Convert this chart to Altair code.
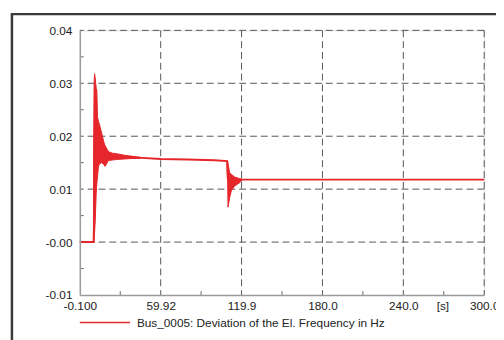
import altair as alt
import pandas as pd

# ---- data ----
line_t = [-0.1, 10.0, 10.2, 12.0, 15.0, 18.0, 21.0, 27.0, 40.0, 60.0, 80.0, 100.0, 109.2, 109.7, 112.0, 115.0, 120.0, 150.0, 200.0, 300.0]
line_v = [0.0, 0.0, 0.0, 0.019, 0.0178, 0.0167, 0.0163, 0.0161, 0.0160, 0.0157, 0.0156, 0.01545, 0.0153, 0.0120, 0.0113, 0.0115, 0.0118, 0.0118, 0.0118, 0.0118]

band1_t = [10.0, 10.12, 10.5, 10.85, 11.3, 12.09, 12.53, 13.04, 13.77, 14.5, 16.18, 17.94, 18.67, 21.08, 24.0, 27.14, 33.0, 39.33, 45.0]
band1_lo = [0.0, 0.0, 0.0008, 0.0019, 0.004, 0.0094, 0.011, 0.0125, 0.0143, 0.0148, 0.0150, 0.0146, 0.0143, 0.0154, 0.0155, 0.0156, 0.0157, 0.0158, 0.0158]
band1_hi = [0.0, 0.018, 0.030, 0.0318, 0.031, 0.029, 0.0287, 0.0236, 0.0228, 0.0222, 0.0205, 0.0187, 0.0182, 0.0171, 0.0168, 0.0167, 0.0164, 0.0162, 0.0160]

band2_t = [109.2, 109.6, 109.9, 111.1, 112.35, 114.8, 118.4, 120.4]
band2_lo = [0.0153, 0.0115, 0.0066, 0.0084, 0.0097, 0.0106, 0.0112, 0.0117]
band2_hi = [0.0153, 0.0153, 0.0148, 0.0131, 0.0128, 0.0123, 0.0120, 0.0119]

x_ticks = [-0.1, 59.92, 119.94, 179.96, 239.98, 300.0]
x_tick_labels = ["-0.100", "59.92", "119.9", "180.0", "240.0", "300.0"]
x_minor = [29.91, 89.93, 149.95, 209.97, 269.99]
y_ticks = [-0.01, 0.0, 0.01, 0.02, 0.03, 0.04]
y_tick_labels = ["-0.01", "-0.00", "0.01", "0.02", "0.03", "0.04"]
y_minor = [-0.005, 0.005, 0.015, 0.025, 0.035]

legend_label = "Bus_0005: Deviation of the El. Frequency in Hz"
unit_label = "[s]"

RED = "#e5262b"
FONT = "Liberation Sans"

W, H = 411, 269


def label_expr(values, labels):
    expr = "''"
    for v, lab in reversed(list(zip(values, labels))):
        expr = f"abs(datum.value - ({v})) < 1e-6 ? '{lab}' : ({expr})"
    return expr


xscale = alt.Scale(domain=[-0.1, 300.0], nice=False, zero=False)
yscale = alt.Scale(domain=[-0.01, 0.04], nice=False, zero=False)

xaxis = alt.Axis(
    values=x_ticks,
    labelExpr=label_expr(x_ticks, x_tick_labels),
    title=None,
    grid=False,
    ticks=False,
    domainColor="#9a9a9a",
    domainWidth=1.5,
    labelFont=FONT,
    labelFontSize=12,
    labelColor="#222222",
    labelPadding=6,
    labelFlush=False,
    labelOverlap=False,
    zindex=1,
)
yaxis = alt.Axis(
    values=y_ticks,
    labelExpr=label_expr(y_ticks, y_tick_labels),
    title=None,
    grid=False,
    ticks=False,
    domainColor="#9a9a9a",
    domainWidth=1.5,
    labelFont=FONT,
    labelFontSize=12,
    labelColor="#222222",
    labelPadding=8,
    labelFlush=False,
    labelOverlap=False,
    zindex=1,
)


def X(field):
    return alt.X(field, type="quantitative", scale=xscale, axis=xaxis)


def Y(field):
    return alt.Y(field, type="quantitative", scale=yscale, axis=yaxis)


line_df = pd.DataFrame({"t": line_t, "v": line_v})
band_df = pd.DataFrame({
    "t": band1_t + band2_t,
    "v": band1_lo + band2_lo,
    "hi": band1_hi + band2_hi,
    "grp": ["a"] * len(band1_t) + ["b"] * len(band2_t),
})

grid_dash = [7, 4]
grid_color = "#555555"

vgrid = alt.Chart(pd.DataFrame({"t": x_ticks[1:]})).mark_rule(
    color=grid_color, strokeDash=grid_dash, strokeWidth=1
).encode(x=X("t"))

hgrid = alt.Chart(pd.DataFrame({"v": y_ticks[1:]})).mark_rule(
    color=grid_color, strokeDash=grid_dash, strokeWidth=1
).encode(y=Y("v"))

xminor = alt.Chart(pd.DataFrame({"t": x_minor})).mark_rule(
    color="#666666", strokeWidth=1
).encode(x=X("t"), y=alt.value(H), y2=alt.value(H - 4))

yminor = alt.Chart(pd.DataFrame({"v": y_minor})).mark_rule(
    color="#666666", strokeWidth=1
).encode(y=Y("v"), x=alt.value(0), x2=alt.value(4))

bands = alt.Chart(band_df).mark_area(
    color=RED, stroke=RED, strokeWidth=1, opacity=1
).encode(
    x=X("t"),
    y=Y("v"),
    y2="hi:Q",
    detail="grp:N",
)

line = alt.Chart(line_df).mark_line(color=RED, strokeWidth=2).encode(x=X("t"), y=Y("v"))

unit = alt.Chart(pd.DataFrame({"s": [unit_label]})).mark_text(
    font=FONT, fontSize=12, color="#222222", align="center", baseline="middle"
).encode(text="s:N", x=alt.value(369), y=alt.value(280.5))

leg_line = alt.Chart(pd.DataFrame({"s": [legend_label]})).mark_rule(
    color=RED, strokeWidth=1.5
).encode(x=alt.value(0), x2=alt.value(51), y=alt.value(297))

leg_text = alt.Chart(pd.DataFrame({"s": [legend_label]})).mark_text(
    font=FONT, fontSize=12, color="#222222", align="left", baseline="middle"
).encode(text="s:N", x=alt.value(58), y=alt.value(297.5))

frame_left = alt.Chart(pd.DataFrame({"s": ["f"]})).mark_rule(
    color="#3a3a3a", strokeWidth=2.5
).encode(x=alt.value(-69), y=alt.value(-17.5), y2=alt.value(320))

frame_top = alt.Chart(pd.DataFrame({"s": ["f"]})).mark_rule(
    color="#3a3a3a", strokeWidth=2.5
).encode(x=alt.value(-70), x2=alt.value(430), y=alt.value(-16.5))

chart = alt.layer(
    vgrid, hgrid, xminor, yminor, bands, line, unit, leg_line, leg_text, frame_left, frame_top
).properties(
    width=W,
    height=H,
    autosize=alt.AutoSizeParams(type="none"),
    padding={"left": 73, "top": 20, "right": 12, "bottom": 43},
).configure_view(stroke=None).configure(background="white")

chart.save("out.html", embed_options={"renderer": "svg", "actions": False})
